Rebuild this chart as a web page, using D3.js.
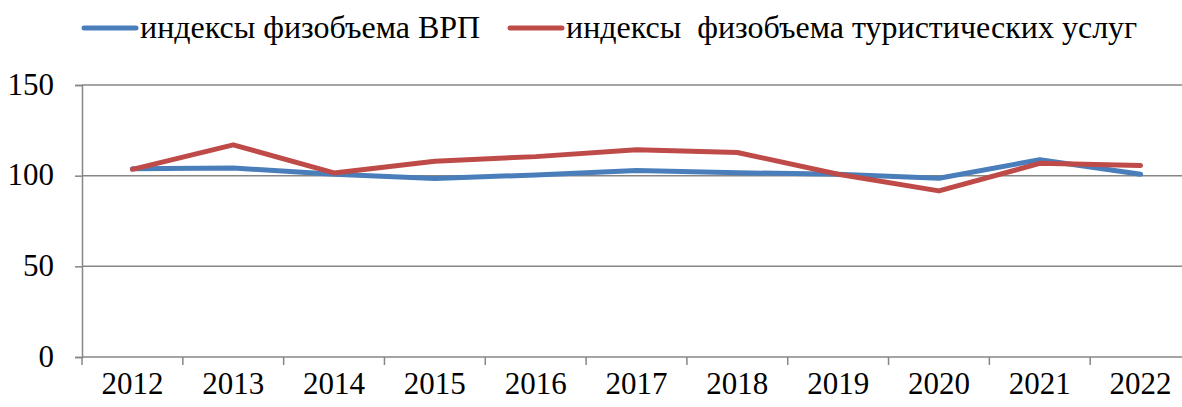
<!DOCTYPE html>
<html>
<head>
<meta charset="utf-8">
<script src="https://cdn.jsdelivr.net/npm/d3@7/dist/d3.min.js"></script>
</head>
<body style="margin:0">
<script>
// Years and index values (previous year = 100)
const years = ["2012", "2013", "2014", "2015", "2016", "2017", "2018", "2019", "2020", "2021", "2022"];
const grpIndex = [103.8, 104.2, 100.8, 98.4, 100.4, 102.8, 101.6, 100.8, 98.6, 108.8, 100.8];
const tourismIndex = [103.5, 117, 101.5, 108, 110.5, 114.3, 112.8, 100.8, 91.6, 106.8, 105.6];
const yTicks = [0, 50, 100, 150];
const seriesNames = ["индексы физобъема ВРП", "индексы  физобъема туристических услуг"];
const seriesColors = ["#4a7ebb", "#be4b48"];

const FONT = "Liberation Serif";
const FS_AXIS = 31, FS_LEGEND = 32;
const W = 1182, H = 407;
const margin = { left: 82, right: -9, top: 85, bottom: 50 };

const svg = d3.select("body").append("svg").attr("width", W).attr("height", H)
  .style("display", "block");

const x = d3.scaleBand().domain(years)
  .range([margin.left, W - margin.right]).paddingInner(0).paddingOuter(0);
const y = d3.scaleLinear().domain([0, 150]).range([H - margin.bottom, margin.top]);

// Horizontal gridlines
svg.append("g").selectAll("line").data(yTicks.filter(d => d > 0)).join("line")
  .attr("x1", margin.left).attr("x2", W)
  .attr("y1", d => y(d)).attr("y2", d => y(d))
  .attr("stroke", "#868686").attr("stroke-width", 1.5);

// Y axis
const yAxis = svg.append("g").attr("transform", `translate(${margin.left},0)`)
  .call(d3.axisLeft(y).tickValues(yTicks).tickSize(7).tickPadding(21));
yAxis.attr("font-family", FONT).attr("font-size", FS_AXIS);
yAxis.select(".domain").attr("stroke", "#868686").attr("stroke-width", 1.5);
yAxis.selectAll(".tick line").attr("stroke", "#868686").attr("stroke-width", 1.5);
yAxis.selectAll("text").attr("fill", "#000").attr("dy", "0.3em")
  .attr("font-family", FONT).attr("font-size", FS_AXIS);

// X axis: baseline with tick marks between categories
const xAxisG = svg.append("g").attr("transform", `translate(0,${y(0)})`);
xAxisG.append("line").attr("x1", margin.left).attr("x2", W)
  .attr("stroke", "#868686").attr("stroke-width", 1.5);
xAxisG.selectAll("line.sep").data(years).join("line").attr("class", "sep")
  .attr("x1", d => x(d)).attr("x2", d => x(d)).attr("y1", 0).attr("y2", 8)
  .attr("stroke", "#868686").attr("stroke-width", 1.5);
xAxisG.selectAll("text").data(years).join("text")
  .attr("x", d => x(d) + x.bandwidth() / 2).attr("y", 37)
  .attr("font-family", FONT).attr("font-size", FS_AXIS)
  .attr("text-anchor", "middle").text(d => d);

// Series lines
const line = d3.line().x((d, i) => x(years[i]) + x.bandwidth() / 2).y(d => y(d));
[grpIndex, tourismIndex].forEach((vals, k) => {
  svg.append("path").datum(vals).attr("d", line)
    .attr("fill", "none").attr("stroke", seriesColors[k]).attr("stroke-width", 5)
    .attr("stroke-linejoin", "round").attr("stroke-linecap", "round");
});

// Legend
const legendItems = [{ x: 84, name: seriesNames[0], color: seriesColors[0] },
                     { x: 510, name: seriesNames[1], color: seriesColors[1] }];
const lg = svg.append("g");
legendItems.forEach(it => {
  lg.append("line").attr("x1", it.x).attr("x2", it.x + 52).attr("y1", 28).attr("y2", 28)
    .attr("stroke", it.color).attr("stroke-width", 5).attr("stroke-linecap", "round");
  lg.append("text").attr("x", it.x + 56).attr("y", 38)
    .attr("font-family", FONT).attr("font-size", FS_LEGEND)
    .style("white-space", "pre").text(it.name);
});
</script>
</body>
</html>
